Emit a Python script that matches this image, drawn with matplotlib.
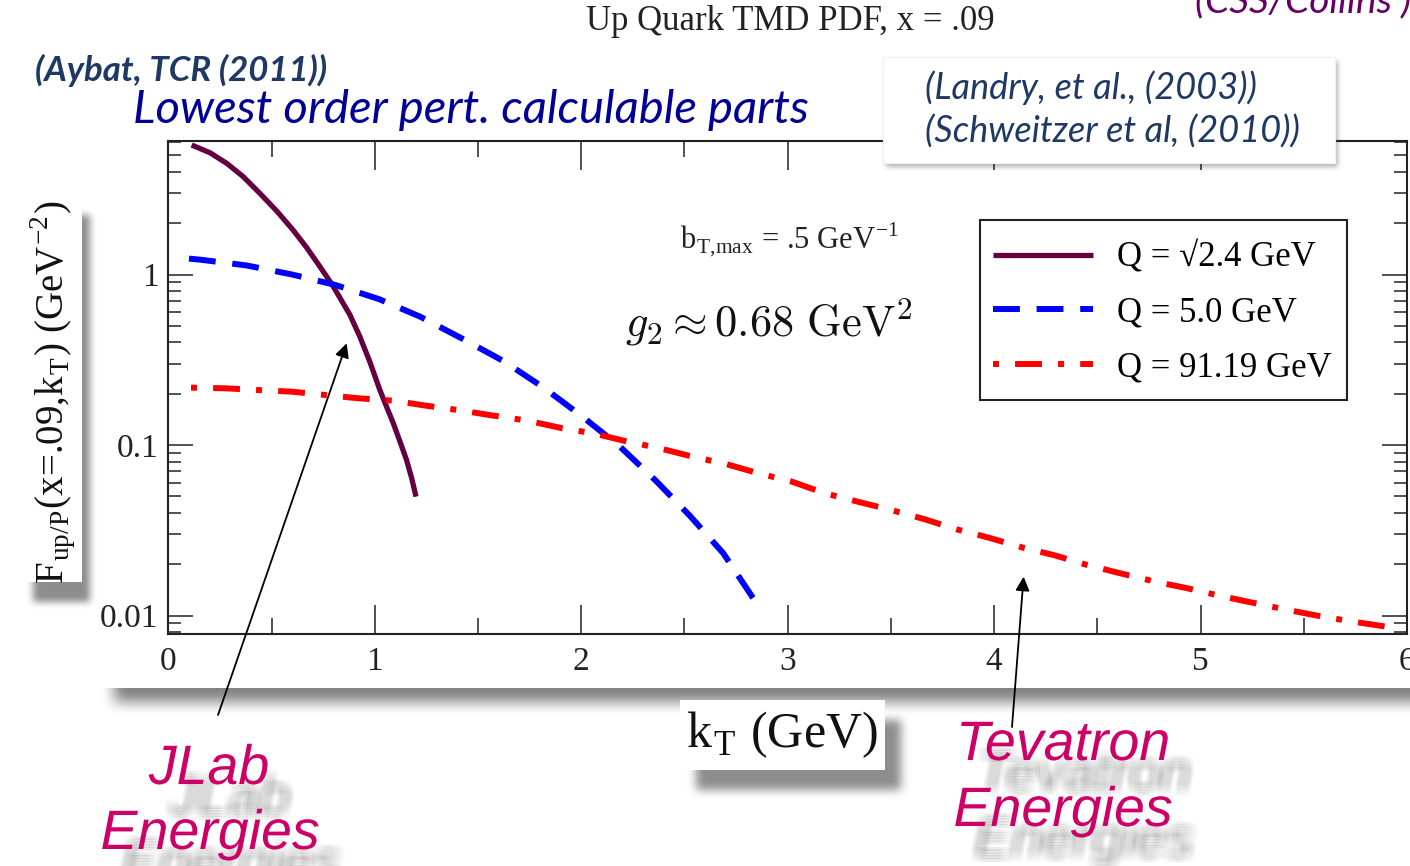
import numpy as np
import matplotlib
matplotlib.use("Agg")
import matplotlib.pyplot as plt
from matplotlib import patheffects as pe
from matplotlib.patches import Rectangle
from matplotlib.ticker import MultipleLocator, LogLocator, NullFormatter

plt.rcParams["font.family"] = ["Liberation Serif", "DejaVu Serif"]
plt.rcParams["mathtext.fontset"] = "cm"

# TMD PDF curves, kT in GeV, F in GeV^-2
kt_jlab = [0.113, 0.202, 0.283, 0.363, 0.444, 0.525, 0.605, 0.670, 0.735, 0.798,
           0.880, 0.928, 0.976, 1.025, 1.057, 1.090, 1.122, 1.154, 1.179, 1.200]
f_jlab = [5.75, 5.18, 4.49, 3.75, 2.99, 2.36, 1.82, 1.44, 1.11, 0.856,
          0.579, 0.432, 0.308, 0.210, 0.168, 0.134, 0.105, 0.0817, 0.0638, 0.0498]

kt_q5 = [0.10, 0.16, 0.38, 0.60, 0.81, 1.02, 1.22, 1.42, 1.625, 1.816, 2.005,
         2.187, 2.36, 2.526, 2.688, 2.828, 2.874]
f_q5 = [1.24, 1.22, 1.13, 1.0, 0.868, 0.718, 0.566, 0.423, 0.31, 0.218, 0.147,
        0.098, 0.062, 0.0385, 0.0232, 0.0129, 0.0108]

kt_tev = [0.11, 0.28, 0.44, 0.60, 0.76, 0.92, 1.09, 1.25, 1.41, 1.57, 1.74, 1.90,
          2.06, 2.22, 2.38, 2.54, 2.70, 2.86, 3.02, 3.18, 3.34, 3.50, 3.66, 3.82,
          3.97, 4.14, 4.29, 4.45, 4.61, 4.78, 4.93, 5.10, 5.25, 5.42, 5.58, 5.74, 5.90]
f_tev = [0.217, 0.215, 0.210, 0.2055, 0.1965, 0.188, 0.182, 0.170, 0.160, 0.149,
         0.139, 0.126, 0.117, 0.105, 0.0957, 0.0854, 0.0774, 0.0682, 0.061, 0.0521,
         0.0465, 0.0416, 0.0368, 0.032, 0.0287, 0.025, 0.0226, 0.0198, 0.0177,
         0.0158, 0.0145, 0.013, 0.0119, 0.0108, 0.0099, 0.0092, 0.0086]

labels = ["Q = \u221a2.4 GeV", "Q = 5.0 GeV", "Q = 91.19 GeV"]
y_ticks = [0.01, 0.1, 1]
y_ticklabels = ["0.01", "0.1", "1"]

W, H = 1410, 866


def fx(x):
    return x / W


def fy(y):
    return 1 - y / H


def box_blur(a, r):
    k = 2 * r + 1
    p = np.pad(a, ((r, r), (0, 0)), mode="edge")
    c = np.concatenate([np.zeros((1, a.shape[1])), np.cumsum(p, axis=0)], axis=0)
    a = (c[k:] - c[:-k]) / k
    p = np.pad(a, ((0, 0), (r, r)), mode="edge")
    c = np.concatenate([np.zeros((a.shape[0], 1)), np.cumsum(p, axis=1)], axis=1)
    return (c[:, k:] - c[:, :-k]) / k


shadow = np.zeros((H, W))


def drop_shadow(box, offset, radius, strength, cover=None):
    # blurred copy of box shifted by offset; the box itself (or cover) stays white
    x0, y0, x1, y1 = box
    dx, dy = offset
    m = np.zeros((H, W))
    m[max(y0 + dy, 0):y1 + dy, max(x0 + dx, 0):x1 + dx] = 1.0
    for _ in range(3):
        m = box_blur(m, radius)
    np.maximum(shadow, m * strength, out=shadow)
    cx0, cy0, cx1, cy1 = cover if cover else box
    shadow[max(cy0, 0):cy1, max(cx0, 0):cx1] = 0


def text_shadow(dx, dy, r, alpha):
    effects = []
    for ox in np.linspace(-r, r, 5):
        for oy in np.linspace(-r, r, 5):
            effects.append(pe.SimplePatchShadow(offset=(dx + ox, dy + oy),
                                                shadow_rgbFace="k", alpha=alpha))
    effects.append(pe.Normal())
    return effects


fig = plt.figure(figsize=(14.1, 8.66), dpi=100)

# shadows of the pasted plot, the axis-label boxes and the reference box
drop_shadow((108, -60, 1420, 688), (6, 14), 6, 0.5, cover=(0, -60, 1420, 688))
drop_shadow((25, 195, 82, 582), (8, 20), 3, 0.45)
drop_shadow((680, 700, 885, 770), (16, 20), 4, 0.45)
drop_shadow((883, 57, 1335, 163), (3, 4), 2, 0.3)
img = np.zeros((H, W, 4))
img[..., 3] = shadow
fig.figimage(img, 0, 0, origin="upper", zorder=-1)

ax = fig.add_axes([fx(168.3), fy(634), (1407 - 168.3) / W, (634 - 141) / H])
ax.set_facecolor("none")

ax.plot(kt_jlab, f_jlab, color="#640040", lw=3.8, solid_capstyle="butt",
        label=labels[0])
ax.plot(kt_q5, f_q5, color="#0000ff", lw=4.3, dashes=(4.5, 2.8),
        dash_capstyle="butt", label=labels[1])
ax.plot(kt_tev, f_tev, color="#ff0000", lw=4.3, dashes=(1.0, 2.7, 4.5, 2.7),
        dash_capstyle="butt", label=labels[2])

ax.set_yscale("log")
ax.set_xlim(0, 6)
ax.set_ylim(0.00779, 6.07)
ax.xaxis.set_major_locator(MultipleLocator(1))
ax.xaxis.set_minor_locator(MultipleLocator(0.5))
ax.set_yticks(y_ticks)
ax.set_yticklabels(y_ticklabels)
ax.yaxis.set_minor_locator(LogLocator(base=10, subs=np.arange(2, 10)))
ax.yaxis.set_minor_formatter(NullFormatter())

ax.tick_params(which="both", direction="in", top=True, right=True,
               colors="#222222", width=1.1, labelsize=24)
ax.tick_params(axis="x", which="major", length=21, pad=9)
ax.tick_params(axis="x", which="minor", length=11.5)
ax.tick_params(axis="y", which="major", length=18, pad=7)
ax.tick_params(axis="y", which="minor", length=9.5)
for s in ax.spines.values():
    s.set_linewidth(1.5)
    s.set_color("#222222")

ax.set_xlabel(r"k$_{\mathregular{T}}$ (GeV)", fontsize=36, color="#111111")
ax.xaxis.set_label_coords((782 - 168.3) / (1407 - 168.3), (634 - 735) / 493)
ax.xaxis.label.set_va("center")
ax.set_ylabel(r"F$_{\mathregular{up/P}}$(x=.09,k$_{\mathregular{T}}$) "
              r"(GeV$^{\mathregular{-2}}$)", fontsize=28, color="#111111")
ax.yaxis.set_label_coords((53 - 168.3) / (1407 - 168.3), (634 - 392) / 493)
ax.yaxis.label.set_va("center")

# legend entries placed inside a separately drawn square frame
ax.add_patch(Rectangle((fx(980), fy(400)), fx(1347) - fx(980), fy(220) - fy(400),
                       transform=fig.transFigure, facecolor="white",
                       edgecolor="#222222", lw=1.5, zorder=4))
leg = ax.legend(loc="center left", bbox_to_anchor=(fx(993), fy(313)),
                bbox_transform=fig.transFigure, borderaxespad=0, borderpad=0,
                fontsize=25, handlelength=2.88, handletextpad=0.69,
                labelspacing=0.63, frameon=False)
leg.set_zorder(5)

ax.text(fx(680), fy(248), r"b$_{\mathregular{T{,}max}}$ = .5 GeV$^{\mathregular{-1}}$",
        transform=fig.transFigure, fontsize=22, color="#222222", va="baseline")
ax.text(fx(625), fy(336), r"$g_2 \approx 0.68\ \mathrm{GeV}^2$",
        transform=fig.transFigure, fontsize=32, color="#111111", va="baseline")

# arrows from the energy labels onto the curves
arrow = dict(arrowstyle="-|>,head_length=0.6,head_width=0.3", color="k",
             lw=1.3, mutation_scale=14, shrinkA=0, shrinkB=0)
ax.annotate("", xy=(0.864, 0.395), xytext=(218, H - 715),
            textcoords="figure pixels", annotation_clip=False, arrowprops=arrow)
ax.annotate("", xy=(4.143, 0.0169), xytext=(1012, H - 727),
            textcoords="figure pixels", annotation_clip=False, arrowprops=arrow)

fig.text(fx(790), fy(22), "Up Quark TMD PDF, x = .09", fontsize=25,
         color="#222222", ha="center", va="center")

sans = ["Lato", "DejaVu Sans"]
fig.text(fx(1195), fy(12), "(CSS/Collins )", fontsize=28, family=sans,
         style="italic", color="#660066", va="baseline")
fig.text(fx(35), fy(70), "(Aybat, TCR (2011))", fontsize=25, family=sans,
         style="italic", weight="bold", color="#1f3864", va="center")
fig.text(fx(133), fy(110), "Lowest order pert. calculable parts", fontsize=34,
         family=sans, style="italic", color="#000096", va="center")

fig.add_artist(Rectangle((fx(883), fy(163)), fx(1335) - fx(883), fy(57) - fy(163),
                         transform=fig.transFigure, facecolor="white",
                         edgecolor="#f0f0f0", lw=0.8, zorder=2))
fig.text(fx(925), fy(88), "(Landry, et al., (2003))", fontsize=26, family=sans,
         style="italic", color="#1f3864", va="center", zorder=3)
fig.text(fx(925), fy(132), "(Schweitzer et al, (2010))", fontsize=26, family=sans,
         style="italic", color="#1f3864", va="center", zorder=3)

arial = ["Liberation Sans", "DejaVu Sans"]
glow = text_shadow(15, -22, 4, 0.015)
for cx, cy, word in [(209, 770, "JLab"), (210, 835, "Energies"),
                     (1063, 746, "Tevatron"), (1063, 812, "Energies")]:
    fig.text(fx(cx), fy(cy), word, fontsize=40, family=arial, style="italic",
             color="#cc0066", ha="center", va="center", path_effects=glow)

fig.savefig("out.png", dpi=100)
